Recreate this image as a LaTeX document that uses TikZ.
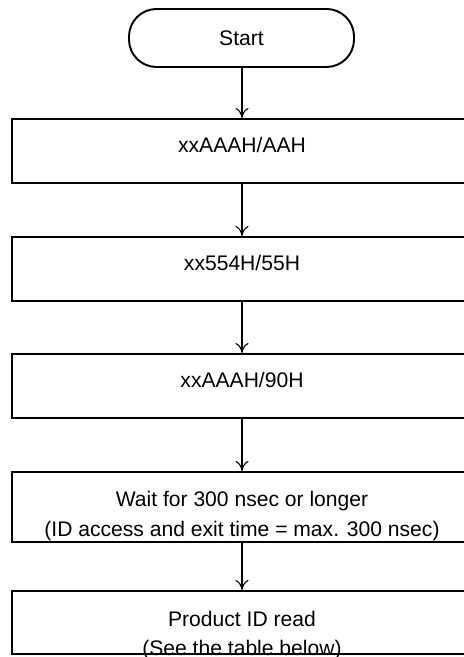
\documentclass[tikz,border=0pt]{standalone}
\usepackage{fontspec}
\setmainfont{Liberation Sans}
\usetikzlibrary{arrows.meta,positioning}

\begin{document}
\begin{tikzpicture}[
    font=\fontsize{12}{17}\selectfont,
    >=latex,
]

\tikzset{
    start_node/.style = {rectangle, rounded corners=0.55cm, minimum width=4.5cm, minimum height=1.16cm,
                         text centered, draw=black, line width=1.1pt},
    step_node/.style = {rectangle, minimum width=9.2cm, minimum height=1.28cm,
                        text centered, text depth=0.25cm, draw=black, line width=1.1pt},
    step_text/.style = {align=center, inner sep=0pt},
    arrow/.style = {line width=0.6pt, -{To[length=2mm, width=2.6mm]}}
}

\useasboundingbox (0, 0) rectangle (9.26, 13.14);

% Flow steps
\node[start_node] (start) at (4.83, 12.38) {Start};
\node[step_node] (cmd1) at (4.84, 10.12) {xxAAAH/AAH};
\node[step_node] (cmd2) at (4.84, 7.76) {xx554H/55H};
\node[step_node] (cmd3) at (4.84, 5.42) {xxAAAH/90H};
\node[step_node, minimum height=1.4cm] (wait) at (4.84, 3.0) {};
\node[step_text] (wait_txt) at (4.84, 2.82)
    {Wait for 300 nsec or longer\\(ID access and exit time = max. 300 nsec)};
\node[step_node, minimum height=1.26cm] (read) at (4.84, 0.69) {};
\node[step_text] (read_txt) at (4.84, 0.43) {Product ID read\\(See the table below)};

% Arrows
\draw[arrow] (start.south -| cmd1.north) -- (cmd1.north);
\draw[arrow] (cmd1) -- (cmd2);
\draw[arrow] (cmd2) -- (cmd3);
\draw[arrow] (cmd3) -- (wait);
\draw[arrow] (wait) -- (read);

\end{tikzpicture}
\end{document}
